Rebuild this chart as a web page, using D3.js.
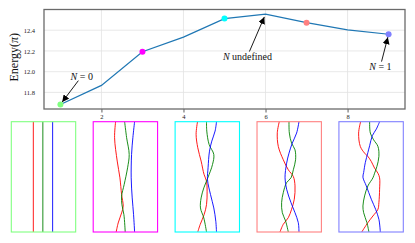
<!DOCTYPE html>
<html>
<head>
<meta charset="utf-8">
<script src="https://cdn.jsdelivr.net/npm/d3@7.9.0/dist/d3.min.js"></script>
<style>
  html, body { margin: 0; padding: 0; background: #fff; }
  svg { display: block; font-family: "Liberation Serif", "DejaVu Serif", serif; }
</style>
</head>
<body>
<svg id="chart" width="415" height="243"></svg>
<script>
// energy along the path
const steps = [1, 2, 3, 4, 5, 6, 7, 8, 9];
const energy = [11.684, 11.868, 12.193, 12.334, 12.512, 12.555, 12.473, 12.403, 12.361];
const markedSteps = [1, 3, 5, 7, 9];
const markColors = ['#80ff80', '#ff00ff', '#00ffff', '#ff8080', '#8080ff'];
const xTicks = [2, 4, 6, 8];
const yTicks = [11.8, 12.0, 12.2, 12.4];

// annotations: [label, step it points to, text x, text y] (data coords)
const annoLabels = [['N', ' = 0'], ['N', ' undefined'], ['N', ' = 1']];
const annoSteps = [1, 6, 9];
const annoTextX = [1.52, 5.56, 8.8];
const annoTextY = [11.957, 12.151, 12.054];

// worldlines per panel, each point is [t, x] in panel fractions
const lineColors = ['#ff0000', '#008000', '#0000ff'];
const paths1 = [
  [[0, .342], [1, .342]],
  [[0, .49], [1, .49]],
  [[0, .642], [1, .642]]
];
const paths2 = [
  [[0, .348], [.145, .332], [.357, .373], [.509, .415], [.661, .441], [.766, .466], [.827, .441], [.918, .388], [1, .357]],
  [[0, .488], [.145, .519], [.297, .559], [.418, .534], [.57, .481], [.675, .441], [.752, .446], [.843, .477], [1, .497]],
  [[0, .643], [.145, .616], [.297, .596], [.509, .59], [.691, .606], [.843, .627], [1, .643]]
];
const paths3 = [
  [[0, .348], [.115, .326], [.236, .352], [.357, .404], [.479, .45], [.539, .488], [.63, .497], [.752, .488], [.843, .45], [.934, .388], [1, .352]],
  [[0, .488], [.085, .492], [.206, .528], [.297, .601], [.388, .581], [.509, .508], [.6, .446], [.691, .404], [.782, .394], [.873, .446], [1, .488]],
  [[0, .643], [.085, .621], [.176, .57], [.267, .534], [.418, .512], [.525, .503], [.661, .55], [.782, .601], [.903, .632], [1, .643]]
];
const paths4 = [
  [[0, .346], [.1, .315], [.225, .331], [.345, .408], [.436, .486], [.497, .564], [.582, .59], [.703, .579], [.794, .537], [.87, .486], [.93, .408], [1, .357]],
  [[0, .497], [.103, .502], [.194, .537], [.255, .59], [.345, .599], [.436, .564], [.509, .528], [.552, .46], [.643, .408], [.734, .382], [.825, .393], [.9, .444], [1, .486]],
  [[0, .652], [.103, .615], [.194, .548], [.285, .497], [.376, .46], [.509, .435], [.612, .46], [.734, .528], [.825, .59], [.915, .641], [1, .652]]
];
const paths5 = [
  [[0, .337], [.103, .306], [.224, .332], [.285, .399], [.315, .45], [.361, .503], [.421, .554], [.467, .606], [.509, .632], [.612, .632], [.734, .621], [.794, .606], [.855, .528], [.915, .45], [1, .355]],
  [[0, .477], [.103, .488], [.164, .539], [.224, .606], [.315, .621], [.406, .59], [.467, .554], [.509, .528], [.582, .45], [.673, .399], [.764, .373], [.825, .384], [.915, .435], [1, .466]],
  [[0, .632], [.067, .581], [.127, .519], [.218, .477], [.279, .45], [.37, .41], [.461, .384], [.503, .373], [.582, .425], [.703, .503], [.794, .57], [.885, .621], [1, .643]]
];
const panels = [paths1, paths2, paths3, paths4, paths5];

const svg = d3.select('#chart');

// main axes box
const box = { left: 44, right: 405, top: 9.5, bottom: 109 };
const x = d3.scaleLinear().domain([0.6, 9.4]).range([box.left, box.right]);
const y = d3.scaleLinear().domain([11.64, 12.6]).range([box.bottom, box.top]);

svg.append('defs').append('marker')
  .attr('id', 'head')
  .attr('viewBox', '0 0 10 10')
  .attr('refX', 10).attr('refY', 5)
  .attr('markerWidth', 7).attr('markerHeight', 7)
  .attr('markerUnits', 'userSpaceOnUse')
  .attr('orient', 'auto')
  .append('path').attr('d', 'M0,0 L10,5 L0,10 z').attr('fill', '#000');

// grid
svg.append('g').selectAll('line').data(xTicks).join('line')
  .attr('x1', d => x(d)).attr('x2', d => x(d))
  .attr('y1', box.top).attr('y2', box.bottom)
  .attr('stroke', '#e2e2e2').attr('stroke-width', 0.8);
svg.append('g').selectAll('line').data(yTicks).join('line')
  .attr('x1', box.left).attr('x2', box.right)
  .attr('y1', d => y(d)).attr('y2', d => y(d))
  .attr('stroke', '#e2e2e2').attr('stroke-width', 0.8);

// axes
const xAxis = svg.append('g')
  .attr('transform', `translate(0,${box.bottom})`)
  .call(d3.axisBottom(x).tickValues(xTicks).tickSize(3.5).tickPadding(1.5).tickFormat(d3.format('d')));
const yAxis = svg.append('g')
  .attr('transform', `translate(${box.left},0)`)
  .call(d3.axisLeft(y).tickValues(yTicks).tickSize(0).tickPadding(9).tickFormat(d3.format('.1f')));
[xAxis, yAxis].forEach(g => {
  g.select('.domain').remove();
  g.selectAll('text').attr('font-family', 'Liberation Serif').attr('font-size', 6.5).attr('fill', '#222');
  g.selectAll('line').attr('stroke', '#333').attr('stroke-width', 0.8);
});

svg.append('rect')
  .attr('x', box.left).attr('y', box.top)
  .attr('width', box.right - box.left).attr('height', box.bottom - box.top)
  .attr('fill', 'none').attr('stroke', '#6a6a6a').attr('stroke-width', 1.3);

const ylab = svg.append('text')
  .attr('transform', `translate(18,${(box.top + box.bottom) / 2 - 2}) rotate(-90)`)
  .attr('text-anchor', 'middle')
  .attr('font-size', 12).attr('fill', '#111');
ylab.append('tspan').text('Energy(');
ylab.append('tspan').attr('font-style', 'italic').text('π');
ylab.append('tspan').text(')');

// energy line
svg.append('path')
  .datum(steps.map((s, i) => [s, energy[i]]))
  .attr('fill', 'none').attr('stroke', '#1f77b4').attr('stroke-width', 1.2)
  .attr('d', d3.line().x(d => x(d[0])).y(d => y(d[1])));

svg.append('g').selectAll('circle').data(markedSteps).join('circle')
  .attr('cx', d => x(d)).attr('cy', d => y(energy[steps.indexOf(d)]))
  .attr('r', 3)
  .attr('fill', (d, i) => markColors[i]);

// annotations
annoLabels.forEach((lab, i) => {
  let tx = x(annoTextX[i]), ty = y(annoTextY[i]);
  let t = svg.append('text')
    .attr('x', tx).attr('y', ty)
    .attr('text-anchor', 'middle').attr('dominant-baseline', 'central')
    .attr('font-size', 10).attr('fill', '#111');
  t.append('tspan').attr('font-style', 'italic').text(lab[0]);
  t.append('tspan').text(lab[1]);

  let bb = t.node().getBBox();
  let px = x(annoSteps[i]), py = y(energy[steps.indexOf(annoSteps[i])]);
  let dx = px - tx, dy = py - ty;
  // leave the text box along the direction of the arrow
  let sx = dx === 0 ? Infinity : (bb.width / 2 + 1) / Math.abs(dx);
  let sy = dy === 0 ? Infinity : (bb.height / 2 - 1) / Math.abs(dy);
  let s = Math.min(sx, sy);
  let len = Math.hypot(dx, dy);
  let e = 1 - 3 / len;
  svg.append('line')
    .attr('x1', tx + dx * s).attr('y1', ty + dy * s)
    .attr('x2', tx + dx * e).attr('y2', ty + dy * e)
    .attr('stroke', '#000').attr('stroke-width', 0.9)
    .attr('marker-end', 'url(#head)');
});

// worldline panels
const band = d3.scaleBand().domain(d3.range(panels.length))
  .range([11.3, 403.3]).paddingInner(0.214).paddingOuter(0);
const pTop = 121.7, pBottom = 232;

panels.forEach((paths, i) => {
  let px = d3.scaleLinear().domain([0, 1]).range([band(i), band(i) + band.bandwidth()]);
  let py = d3.scaleLinear().domain([0, 1]).range([pTop, pBottom]);
  let g = svg.append('g');
  let line = d3.line().x(d => px(d[1])).y(d => py(d[0])).curve(d3.curveCatmullRom.alpha(0.5));
  g.selectAll('path').data(paths).join('path')
    .attr('d', line)
    .attr('fill', 'none')
    .attr('stroke', (d, k) => lineColors[k])
    .attr('stroke-width', 0.9);
  g.append('rect')
    .attr('x', band(i)).attr('y', pTop)
    .attr('width', band.bandwidth()).attr('height', pBottom - pTop)
    .attr('fill', 'none').attr('stroke', markColors[i]).attr('stroke-width', 1.1);
});
</script>
</body>
</html>
